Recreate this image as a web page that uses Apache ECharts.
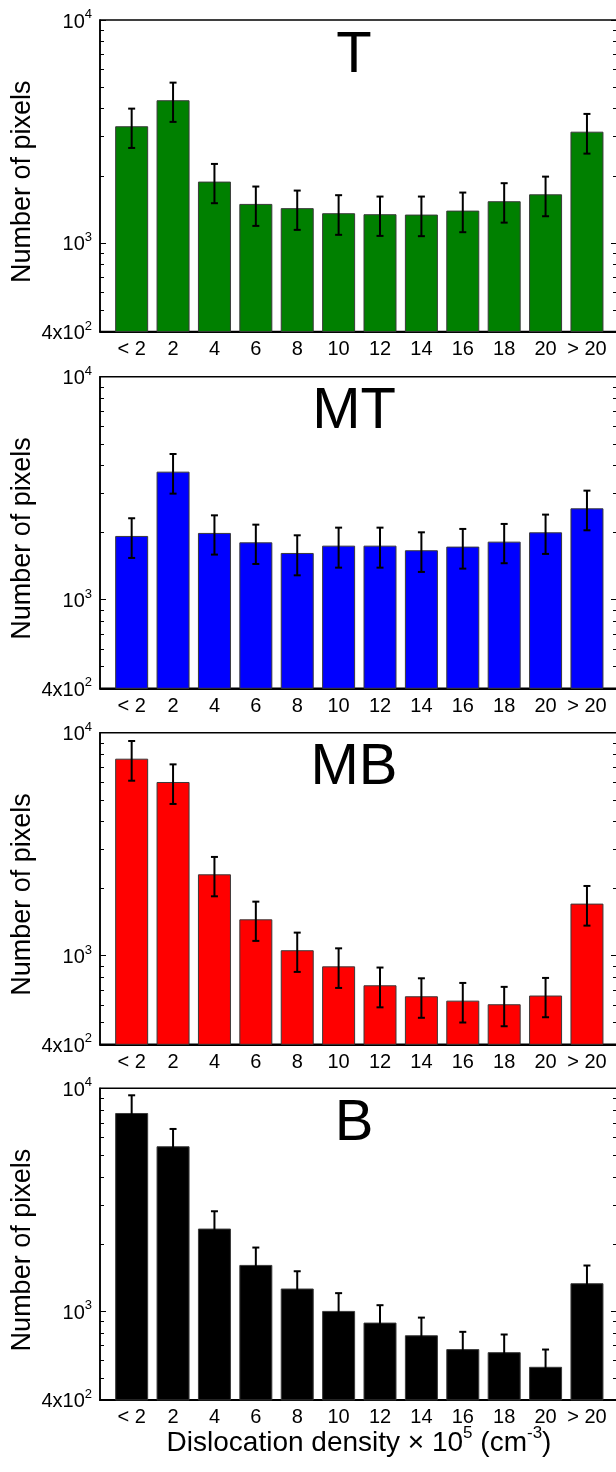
<!DOCTYPE html>
<html><head><meta charset="utf-8">
<script src="https://cdn.jsdelivr.net/npm/echarts@6/dist/echarts.min.js"></script>
<style>html,body{margin:0;padding:0;background:#fff}#c{width:616px;height:1472px}</style>
</head><body><div id="c"></div>
<script>
// ---- data ----
const categories = ['< 2','2','4','6','8','10','12','14','16','18','20','> 20'];
const panelNames = ['T','MT','MB','B'];
const panelColors = ['#008000','#0000ff','#ff0000','#000000'];

const tValues = [3337, 4365, 1884, 1496, 1432, 1359, 1345, 1340, 1396, 1538, 1652, 3155];
const tUpper  = [4003, 5236, 2261, 1790, 1717, 1637, 1614, 1614, 1682, 1853, 1983, 3790];
const tLower  = [2667, 3490, 1507, 1192, 1144, 1087, 1075, 1072, 1117, 1233, 1317, 2515];

const mtValues = [1930, 3750, 1991, 1807, 1619, 1746, 1746, 1665, 1729, 1820, 2004, 2568];
const mtUpper  = [2317, 4500, 2388, 2169, 1943, 2103, 2103, 2004, 2075, 2185, 2406, 3082];
const mtLower  = [1538, 2988, 1592, 1445, 1285, 1391, 1391, 1331, 1377, 1456, 1603, 2046];

const mbValues = [7646, 6010, 2316, 1455, 1057, 895, 736, 657, 628, 605, 662, 1711];
const mbUpper  = [9176, 7210, 2771, 1746, 1268, 1078, 884, 791, 754, 724, 794, 2053];
const mbLower  = [6090, 4790, 1845, 1164, 845, 716, 586, 526, 501, 482, 529, 1363];

const bValues = [7749, 5495, 2348, 1613, 1264, 1003, 889, 780, 676, 655, 563, 1335];
const bUpper  = [9303, 6571, 2808, 1930, 1511, 1205, 1064, 936, 808, 786, 673, 1603];
const bLower  = [6455, 4595, 1963, 1348, 1057, 835, 743, 650, 566, 546, 471, 1112];

const yLabelValues = [400, 1000, 10000];
const yLabelTexts  = ['{b|4x10}{s|2}', '{b|10}{s|3}', '{b|10}{s|4}'];
const yMajorTicks  = [1000, 10000];
const yMinorTicks  = [500, 600, 700, 800, 900, 2000, 3000, 4000, 5000, 6000, 7000, 8000, 9000];
const yAxisTitle = 'Number of pixels';
const xAxisTitle = '{t|Dislocation density × 10}{s|5}{t| (cm}{s|-3}{t|)}';

// ---- layout ----
const FONT = '"Liberation Sans", Arial, Helvetica, sans-serif';
const gridTops = [20, 376.7, 732.7, 1088.3];
const GRID_H = 311.6;

const panels = [
  {values: tValues, upper: tUpper, lower: tLower},
  {values: mtValues, upper: mtUpper, lower: mtLower},
  {values: mbValues, upper: mbUpper, lower: mbLower},
  {values: bValues, upper: bUpper, lower: bLower}
];

const chart = echarts.init(document.getElementById('c'), null, {renderer: 'canvas'});
const option = {animation: false, backgroundColor: '#fff', grid: [], xAxis: [], yAxis: [], series: [], graphic: []};

const tickLine = {color: '#000', width: 1};
function errRender(params, api) {
  const x = api.value(0), lo = api.value(1), hi = api.value(2);
  const a = api.coord([x, hi]);
  const b = api.coord([x, lo]);
  const hw = 3.5;
  const st = {stroke: '#000', lineWidth: 2};
  return {type: 'group', children: [
    {type: 'line', shape: {x1: a[0], y1: a[1], x2: b[0], y2: b[1]}, style: st},
    {type: 'line', shape: {x1: a[0] - hw, y1: a[1], x2: a[0] + hw, y2: a[1]}, style: st},
    {type: 'line', shape: {x1: b[0] - hw, y1: b[1], x2: b[0] + hw, y2: b[1]}, style: st}
  ]};
}

panels.forEach((p, i) => {
  const last = i === panels.length - 1;
  option.grid.push({left: 100, right: -2, top: gridTops[i], height: GRID_H, show: true,
    borderColor: '#000', borderWidth: 1.5, backgroundColor: 'transparent',
    containLabel: false, outerBoundsMode: 'none'});
  option.xAxis.push({
    type: 'value', gridIndex: i, min: -0.765, max: 11.75,
    axisLine: {show: true, onZero: false, lineStyle: {color: '#000', width: 2}},
    axisTick: {show: false}, splitLine: {show: false},
    axisLabel: {customValues: categories.map((c, k) => k), formatter: v => categories[Math.round(v)],
      fontSize: 20, color: '#000', fontFamily: FONT, margin: 8},
    name: last ? xAxisTitle : '', nameLocation: 'middle', nameGap: 25, nameMoveOverlap: false,
    nameTextStyle: {rich: {
      t: {fontSize: 28, fontFamily: FONT, color: '#000', lineHeight: 32, verticalAlign: 'bottom'},
      s: {fontSize: 17, fontFamily: FONT, color: '#000', lineHeight: 16, verticalAlign: 'top'}
    }}
  });
  const yBase = {type: 'log', logBase: 10, gridIndex: i, min: 400, max: 10000, splitLine: {show: false}};
  option.yAxis.push(Object.assign({}, yBase, {
    position: 'left',
    axisLine: {show: true, onZero: false, lineStyle: {color: '#000', width: 1.5}},
    axisTick: {show: true, inside: true, length: 6, customValues: yMajorTicks, lineStyle: tickLine},
    axisLabel: {customValues: yLabelValues, margin: 8,
      formatter: v => yLabelTexts[yLabelValues.indexOf(Math.round(v))],
      rich: {
        b: {fontSize: 20, fontFamily: FONT, color: '#000', lineHeight: 24, verticalAlign: 'bottom'},
        s: {fontSize: 13, fontFamily: FONT, color: '#000', lineHeight: 12, verticalAlign: 'top'}
      }},
    name: yAxisTitle, nameLocation: 'middle', nameGap: 64, nameMoveOverlap: false,
    nameTextStyle: {fontSize: 27, fontFamily: FONT, color: '#000', padding: [0, 12, 0, 0]}
  }));
  option.yAxis.push(Object.assign({}, yBase, {
    position: 'left', axisLine: {show: false, onZero: false},
    axisTick: {show: true, inside: true, length: 4, customValues: yMinorTicks, lineStyle: tickLine},
    axisLabel: {show: false}
  }));
  option.yAxis.push(Object.assign({}, yBase, {
    position: 'right', axisLine: {show: false, onZero: false},
    axisTick: {show: true, inside: true, length: 7, customValues: yMajorTicks, lineStyle: tickLine},
    axisLabel: {show: false}
  }));
  option.yAxis.push(Object.assign({}, yBase, {
    position: 'right', axisLine: {show: false, onZero: false},
    axisTick: {show: true, inside: true, length: 5, customValues: yMinorTicks, lineStyle: tickLine},
    axisLabel: {show: false}
  }));
  option.series.push({
    type: 'bar', xAxisIndex: i, yAxisIndex: 4 * i, barWidth: 33, clip: true, z: 2,
    itemStyle: {color: panelColors[i], borderColor: '#3a3a3a', borderWidth: 1},
    data: p.values.map((v, k) => [k, v])
  });
  option.series.push({
    type: 'custom', xAxisIndex: i, yAxisIndex: 4 * i, z: 3,
    encode: {x: 0, y: [1, 2]}, renderItem: errRender,
    data: p.values.map((v, k) => [k, p.lower[k], p.upper[k]])
  });
  option.graphic.push({
    type: 'text', x: 354, y: gridTops[i] + 35.5, z: 10,
    style: {text: panelNames[i], fontSize: 58, fontFamily: FONT, fill: '#000', align: 'center', verticalAlign: 'middle'}
  });
});

chart.setOption(option);
</script>
</body></html>
